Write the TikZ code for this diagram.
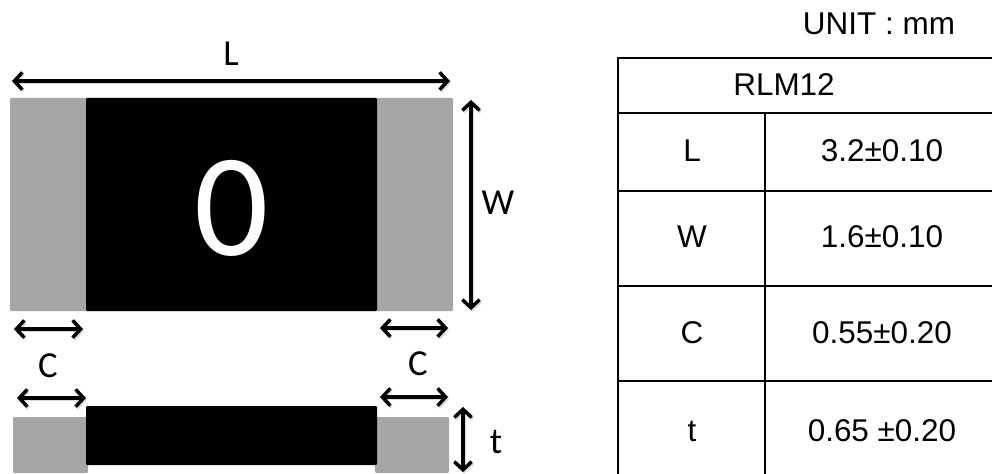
\documentclass[tikz,border=0pt]{standalone}
\usepackage{fontspec}
\setmainfont{Liberation Sans}
\newfontfamily\calib{Carlito}
\usetikzlibrary{arrows.meta}
\tikzset{
  x=0.75pt,y=-0.75pt,
  term/.style={fill=termgray,rounded corners=0.8pt},
  bodyb/.style={fill=black,rounded corners=0.8pt},
  dimline/.style={line width=2.4pt,{Straight Barb[length=6pt,width=13pt,line width=2.6pt]}-{Straight Barb[length=6pt,width=13pt,line width=2.6pt]}},
  dimshadow/.style={dimline,draw=black,opacity=0.15,transform canvas={xshift=0.8pt,yshift=-1.4pt}},
  lbl/.style={font=\calib\fontsize{27.5}{30}\selectfont,inner sep=0pt,anchor=center},
  cell/.style={font=\fontsize{23.6}{27}\selectfont,inner sep=0pt,anchor=center},
  rule/.style={line width=1.5pt,draw=black},
}
\definecolor{termgray}{HTML}{A6A6A6}
\begin{document}
\begin{tikzpicture}
\useasboundingbox (0,0) rectangle (992,474);
% top view
\fill[term] (10,98) rectangle (453,311);
\fill[bodyb] (86,98) rectangle (377,311);
\node[font=\calib\fontsize{110}{116}\selectfont,text=white,inner sep=0pt] (zero) at (232,208) {0};
% side view
\fill[term] (13,417) rectangle (88,473);
\fill[term] (375,417) rectangle (449,473);
\fill[bodyb] (86,406) rectangle (377,465);
% dimension end points
\coordinate (La) at (12,81);  \coordinate (Lb) at (450,81);
\coordinate (Wa) at (471,100); \coordinate (Wb) at (471,310);
\coordinate (C1a) at (14,329); \coordinate (C1b) at (83,329);
\coordinate (C2a) at (380,328); \coordinate (C2b) at (448,328);
\coordinate (C3a) at (17,398); \coordinate (C3b) at (86,398);
\coordinate (C4a) at (380,397); \coordinate (C4b) at (448,397);
\coordinate (ta) at (463,407); \coordinate (tb) at (463,472);
\foreach \a/\b in {La/Lb,Wa/Wb,C1a/C1b,C2a/C2b,C3a/C3b,C4a/C4b,ta/tb}{
  \draw[dimshadow] (\a) -- (\b);
  \draw[dimline] (\a) -- (\b);
}
\node[lbl] (lL) at (231,54) {L};
\node[lbl] (lW) at (498,203) {W};
\node[lbl] (lC1) at (48,366) {C};
\node[lbl] (lC2) at (418,364) {C};
\node[lbl] (lt) at (496,442) {t};
% table
\node[cell] (unit) at (879,24) {UNIT : mm};
\draw[rule] (992,58) -- (618,58) -- (618,474);
\draw[rule] (765,113) -- (765,474);
\foreach \yy in {113,191,286,381}{\draw[rule] (618,\yy) -- (992,\yy);}
\node[cell] (head) at (784,85) {RLM12};
\node[cell] at (692,151) (k1) {L};
\node[cell] at (882,151) (v1) {3.2±0.10};
\node[cell] at (692,237) (k2) {W};
\node[cell] at (882,237) (v2) {1.6±0.10};
\node[cell] at (692,333) (k3) {C};
\node[cell] at (882,333) (v3) {0.55±0.20};
\node[cell] at (692,431) (k4) {t};
\node[cell] at (882,431) (v4) {0.65 ±0.20};
\end{tikzpicture}
\end{document}
